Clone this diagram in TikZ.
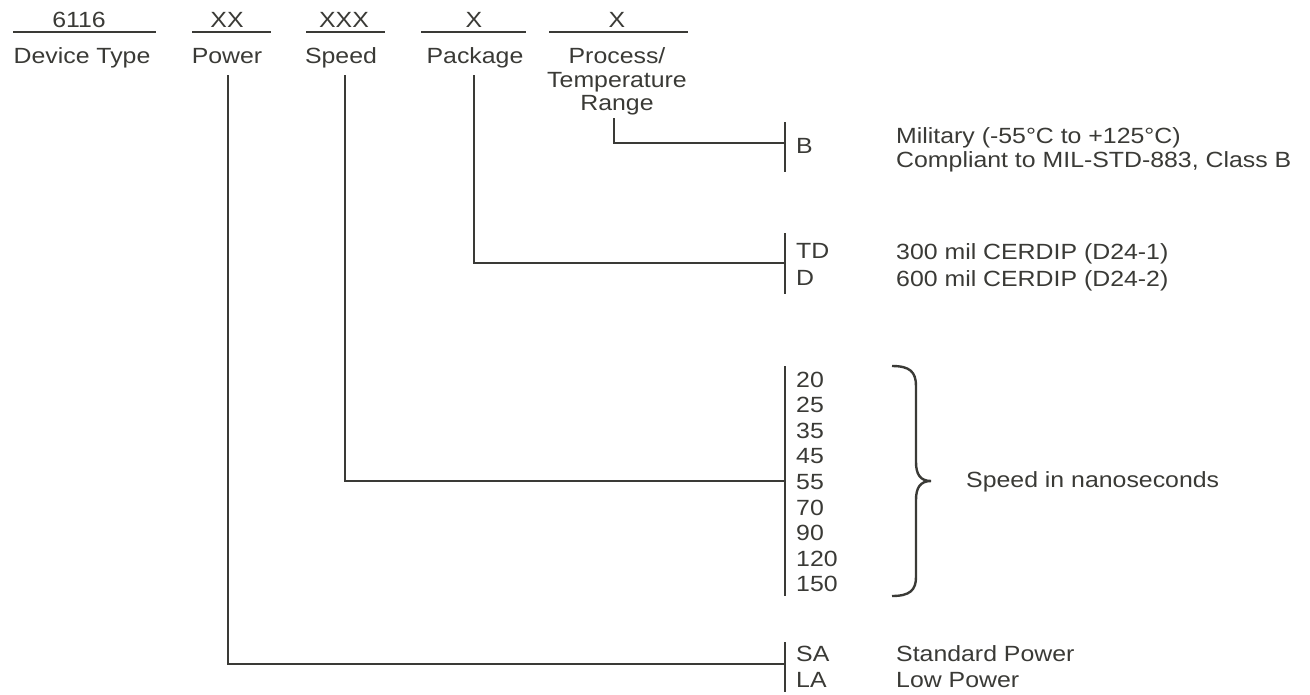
\documentclass[tikz,border=0pt]{standalone}
\usepackage{fontspec}
\setmainfont{Liberation Sans}[FakeStretch=1.13]
\definecolor{ink}{RGB}{58,58,54}
\begin{document}
\begin{tikzpicture}[x=1pt,y=-1pt,
  txt/.style={inner sep=0pt,anchor=base,text=ink,font=\fontsize{22}{26}\selectfont},
  ltxt/.style={txt,anchor=base west},
  ln/.style={draw=ink,line width=2.6pt},
  bar/.style={draw=ink,line width=2.6pt}]
\useasboundingbox (0,0) rectangle (1310,694);
% header codes
\node[txt] (c1) at (79,27) {6116};
\node[txt] (c2) at (227,27) {XX};
\node[txt] (c3) at (344,27) {XXX};
\node[txt] (c4) at (474,27) {X};
\node[txt] (c5) at (617,27) {X};
\draw[ln] (13,32) -- (156,32);
\draw[ln] (192,32) -- (271,32);
\draw[ln] (306,32) -- (385,32);
\draw[ln] (421,32) -- (526,32);
\draw[ln] (549,32) -- (688,32);
% field names
\node[txt] (devtype) at (82,63) {Device Type};
\node[txt] (power) at (227,63) {Power};
\node[txt] (speed) at (341,63) {Speed};
\node[txt] (package) at (475,63) {Package};
\node[txt] (proc1) at (617,63) {Process/};
\node[txt] (proc2) at (617,87) {Temperature};
\node[txt] (proc3) at (617,110) {Range};
% start points of connectors
\coordinate (pwtop) at (228,75);
\coordinate (sptop) at (345,75);
\coordinate (pktop) at (474,75);
\coordinate (prtop) at (614,118);
% option bars
\coordinate (bB1) at (785,122); \coordinate (bB2) at (785,172); \coordinate (tB) at (785,143);
\coordinate (bP1) at (785,233); \coordinate (bP2) at (785,294); \coordinate (tP) at (785,263);
\coordinate (bS1) at (785,366); \coordinate (bS2) at (785,596); \coordinate (tS) at (785,481);
\coordinate (bW1) at (785,642); \coordinate (bW2) at (785,692); \coordinate (tW) at (785,664);
\draw[bar] (bB1) -- (bB2);
\draw[bar] (bP1) -- (bP2);
\draw[bar] (bS1) -- (bS2);
\draw[bar] (bW1) -- (bW2);
% connectors
\draw[ln] (prtop) |- (tB);
\draw[ln] (pktop) |- (tP);
\draw[ln] (sptop) |- (tS);
\draw[ln] (pwtop) |- (tW);
% options
\node[ltxt] (oB) at (796,153) {B};
\node[ltxt] (mil1) at (896,143) {Military (-55°C to +125°C)};
\node[ltxt] (mil2) at (896,167) {Compliant to MIL-STD-883, Class B};
\node[ltxt] (oTD) at (796,258) {TD};
\node[ltxt] (oD) at (796,285) {D};
\node[ltxt] (pk1) at (896,259) {300 mil CERDIP (D24-1)};
\node[ltxt] (pk2) at (896,286) {600 mil CERDIP (D24-2)};
\foreach \v [count=\i from 0] in {20,25,35,45,55,70,90,120,150}
  \node[ltxt] (s\v) at (796,387+25.6*\i) {\v};
\coordinate (brT) at (892,366);
\coordinate (brM) at (931,481);
\coordinate (brB) at (892,596);
\draw[ln,line width=2.4pt] (brT) .. controls (910,366) and (916,372) .. (916,386) -- (916,462)
  .. controls (916,474) and (920,481) .. (brM)
  .. controls (920,481) and (916,488) .. (916,500) -- (916,577)
  .. controls (916,590) and (910,596) .. (brB);
\node[ltxt] (spdesc) at (966,487) {Speed in nanoseconds};
\node[ltxt] (oSA) at (796,661) {SA};
\node[ltxt] (oLA) at (796,687) {LA};
\node[ltxt] (pw1) at (896,661) {Standard Power};
\node[ltxt] (pw2) at (896,687) {Low Power};
\end{tikzpicture}
\end{document}
